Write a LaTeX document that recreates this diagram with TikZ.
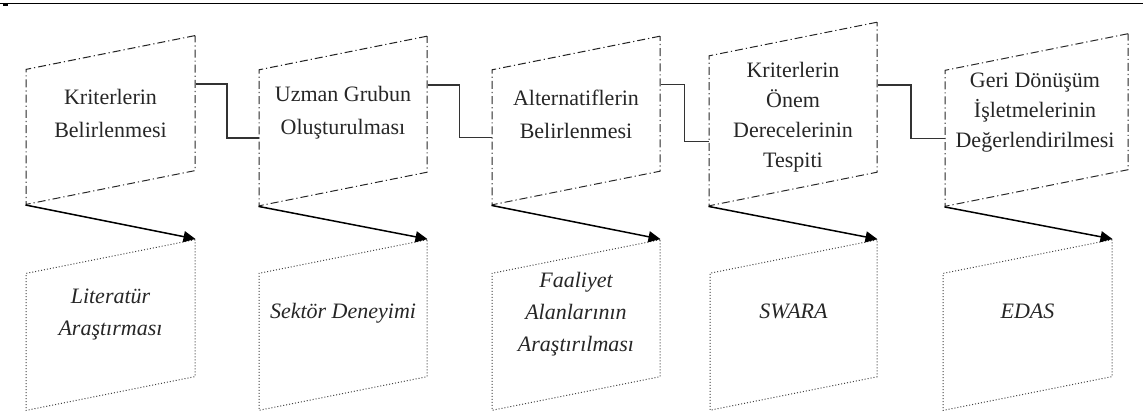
\documentclass[tikz,border=0pt]{standalone}
\usepackage{fontspec}
\setmainfont{Liberation Serif}
\usetikzlibrary{calc,arrows.meta}
\begin{document}
\begin{tikzpicture}[
  x=0.5pt, y=-0.5pt,
  upper/.style={rectangle, draw=black!85, line width=0.5pt, dash pattern=on 4pt off 1.5pt on 0.6pt off 1.5pt, minimum width=84.5pt, minimum height=67.5pt, inner sep=0pt, yslant=0.2},
  lower/.style={rectangle, draw=black!75, line width=0.5pt, densely dotted, minimum width=84.5pt, minimum height=68.5pt, inner sep=0pt, yslant=0.2},
  upper_text/.style={align=center, inner sep=0pt, text=black!85, font=\fontsize{11}{16.5}\selectfont},
  lower_text/.style={align=center, inner sep=0pt, text=black!85, font=\itshape\fontsize{11}{16}\selectfont},
  link/.style={draw=black!80, line width=0.75pt},
  step_arrow/.style={draw=black, line width=0.75pt, -{Triangle[length=6pt,width=5.5pt]}},
]
\useasboundingbox (0,0) rectangle (1143,414);
\draw[line width=0.75pt] (0,3.5) -- (1143,3.5);
\fill (3,2.5) rectangle (8,6);

\draw (110.5,120) node (u1) [upper] {};
\draw (343,121) node (u2) [upper, minimum width=84pt, minimum height=68pt] {};
\draw (576,120.5) node (u3) [upper, minimum width=84pt] {};
\draw (793,114) node (u4) [upper, minimum width=84pt, minimum height=75pt] {};
\draw (1036.5,120) node (u5) [upper, minimum width=91.5pt, minimum height=68pt] {};

\draw (110.5,113) node (ut1) [upper_text] {Kriterlerin\\Belirlenmesi};
\draw (343,113) node (ut2) [upper_text] {Uzman Grubun\\Oluşturulması};
\draw (576,114) node (ut3) [upper_text] {Alternatiflerin\\Belirlenmesi};
\draw (793,117) node (ut4) [upper_text, font=\fontsize{11}{15}\selectfont] {Kriterlerin\\Önem\\Derecelerinin\\Tespiti};
\draw (1035,113) node (ut5) [upper_text, font=\fontsize{11}{15}\selectfont] {Geri Dönüşüm\\İşletmelerinin\\Değerlendirilmesi};

\draw (110.5,325) node (l1) [lower] {};
\draw (343,325) node (l2) [lower, minimum width=84pt] {};
\draw (576,325) node (l3) [lower, minimum width=84pt] {};
\draw (793.5,325) node (l4) [lower, minimum width=83.5pt] {};
\draw (1027.5,325) node (l5) [lower] {};

\draw (110.5,314) node (lt1) [lower_text] {Literatür\\Araştırması};
\draw (343,313) node (lt2) [lower_text] {Sektör Deneyimi};
\draw (576,314) node (lt3) [lower_text] {Faaliyet\\Alanlarının\\Araştırılması};
\draw (793.5,311) node (lt4) [lower_text] {SWARA};
\draw (1027.5,311) node (lt5) [lower_text] {EDAS};

\draw[link] ($(u1.north east)!.36!(u1.south east)$) -| ($(u1.east)!.5!(u2.west)$) |- (u2.west);
\draw[link] ($(u2.north east)!.36!(u2.south east)$) -| ($(u2.east)!.5!(u3.west)$) |- (u3.west);
\draw[link] ($(u3.north east)!.36!(u3.south east)$) -| ($(u3.east)!.5!(u4.west)$) |- ($(u4.north west)!.57!(u4.south west)$);
\draw[link] ($(u4.north east)!.42!(u4.south east)$) -| ($(u4.east)!.5!(u5.west)$) |- (u5.west);

\draw[step_arrow] (u1.south west) -- (l1.north east);
\draw[step_arrow] (u2.south west) -- (l2.north east);
\draw[step_arrow] (u3.south west) -- (l3.north east);
\draw[step_arrow] (u4.south west) -- (l4.north east);
\draw[step_arrow] (u5.south west) -- (l5.north east);
\end{tikzpicture}
\end{document}
